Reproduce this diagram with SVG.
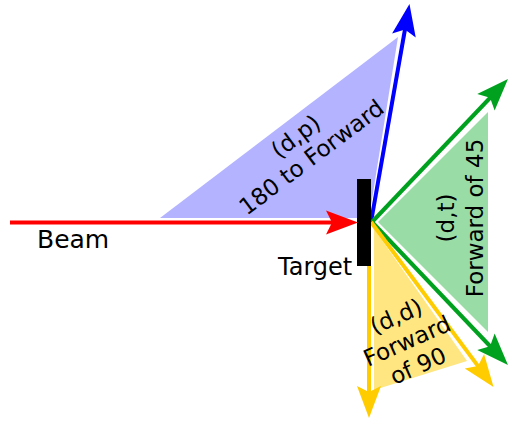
<svg xmlns="http://www.w3.org/2000/svg" width="509" height="421" viewBox="0 0 509 421">
  <style>
    .lbl { font-family: "DejaVu Sans", "Liberation Sans", sans-serif; fill: #000; }
    .rot { font-size: 23px; text-anchor: middle; }
    .big { font-size: 24px; }
    .ln { fill: none; stroke-width: 4; stroke-linecap: butt; }
  </style>
  <defs>
    <marker id="hr" markerUnits="userSpaceOnUse" orient="auto" refX="0" refY="0" markerWidth="60" markerHeight="60" overflow="visible"><path d="M20,0 L-12,-12 L-6,0 L-12,12 Z" fill="#ff0000"/></marker>
    <marker id="hb" markerUnits="userSpaceOnUse" orient="auto" refX="0" refY="0" markerWidth="60" markerHeight="60" overflow="visible"><path d="M20,0 L-12,-12 L-6,0 L-12,12 Z" fill="#0000ff"/></marker>
    <marker id="hg" markerUnits="userSpaceOnUse" orient="auto" refX="0" refY="0" markerWidth="60" markerHeight="60" overflow="visible"><path d="M20,0 L-12,-12 L-6,0 L-12,12 Z" fill="#00a11e"/></marker>
    <marker id="hy" markerUnits="userSpaceOnUse" orient="auto" refX="0" refY="0" markerWidth="60" markerHeight="60" overflow="visible"><path d="M20,0 L-12,-12 L-6,0 L-12,12 Z" fill="#ffcc00"/></marker>
  </defs>

  <g id="dp-region"><polygon points="160,218 398,37 369,218" fill="#b3b3ff"/></g>
  <g id="dt-region"><polygon points="378,222 488,112 488,332" fill="#99dca6"/></g>
  <g id="dd-region"><polygon points="374,229 374,390 467,361" fill="#ffe680"/></g>

  <g id="connectors">
    <line class="ln" x1="10" y1="222.5" x2="338" y2="222.5" stroke="#ff0000" marker-end="url(#hr)"/>
    <line class="ln" x1="371" y1="222" x2="406" y2="23.7" stroke="#0000ff" marker-end="url(#hb)"/>
    <line class="ln" x1="372" y1="222" x2="494.2" y2="93.5" stroke="#00a11e" marker-end="url(#hg)"/>
    <line class="ln" x1="372" y1="222" x2="494.2" y2="350.5" stroke="#00a11e" marker-end="url(#hg)"/>
    <line class="ln" x1="369" y1="222" x2="369" y2="398" stroke="#ffcc00" marker-end="url(#hy)"/>
    <line class="ln" x1="371" y1="222" x2="481.6" y2="370.9" stroke="#ffcc00" marker-end="url(#hy)"/>
  </g>

  <g id="target">
    <rect x="357" y="179" width="14" height="87" fill="#000"/>
    <text class="lbl big" x="278" y="275">Target</text>
  </g>
  <g id="beam"><text class="lbl big" x="37" y="248" style="font-size:25px">Beam</text></g>

  <g id="dp-label">
    <text class="lbl rot" transform="translate(303,146) rotate(-37)"><tspan x="0" y="-4">(d,p)</tspan><tspan x="0" y="22">180 to Forward</tspan></text>
  </g>
  <g id="dt-label">
    <text class="lbl rot" transform="translate(469,218) rotate(-90)"><tspan x="0" y="-15">(d,t)</tspan><tspan x="0" y="14">Forward of 45</tspan></text>
  </g>
  <g id="dd-label">
    <text class="lbl rot" transform="translate(407,341) rotate(-24)"><tspan x="0" y="-19">(d,d)</tspan><tspan x="0" y="8">Forward</tspan><tspan x="0" y="35">of 90</tspan></text>
  </g>
</svg>
